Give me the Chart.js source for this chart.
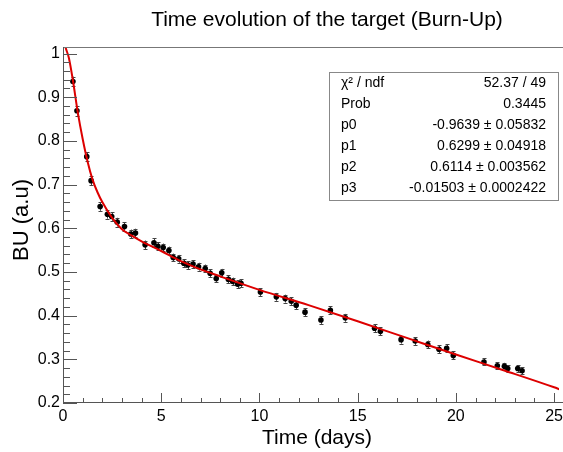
<!DOCTYPE html>
<html><head><meta charset="utf-8">
<script src="https://cdn.jsdelivr.net/npm/chart.js@4.4.0/dist/chart.umd.min.js"></script>
<style>html,body{margin:0;padding:0;background:#fff;}#wrap{width:563px;height:452px;}</style>
</head><body><div id="wrap"><canvas id="c" width="563" height="452"></canvas></div>
<script>
const chartTitle = 'Time evolution of the target (Burn-Up)';
const xTitle = 'Time (days)';
const yTitle = 'BU (a.u)';
const days = [0.505,0.71,1.21,1.43,1.89,2.26,2.48,2.76,3.13,3.45,3.69,4.18,4.63,4.83,5.10,5.39,5.61,5.89,6.15,6.35,6.62,6.90,7.24,7.49,7.80,8.08,8.42,8.64,8.89,9.06,10.05,10.86,11.31,11.62,11.87,12.32,13.13,13.61,14.37,15.86,16.16,17.21,17.93,18.57,19.14,19.53,19.87,21.43,22.11,22.47,22.64,23.15,23.37];
const bu = [0.936,0.869,0.764,0.709,0.650,0.632,0.627,0.614,0.604,0.587,0.589,0.562,0.567,0.559,0.556,0.549,0.533,0.530,0.520,0.516,0.518,0.512,0.508,0.497,0.485,0.498,0.483,0.478,0.472,0.474,0.454,0.443,0.439,0.433,0.424,0.408,0.390,0.412,0.395,0.371,0.364,0.345,0.342,0.334,0.323,0.325,0.309,0.294,0.285,0.284,0.279,0.279,0.274];
const buErr = [0.011,0.011,0.010,0.010,0.010,0.010,0.010,0.010,0.010,0.010,0.010,0.010,0.010,0.009,0.009,0.009,0.009,0.009,0.009,0.009,0.009,0.009,0.009,0.009,0.009,0.009,0.009,0.009,0.009,0.009,0.009,0.009,0.009,0.009,0.009,0.009,0.009,0.009,0.009,0.009,0.009,0.009,0.009,0.009,0.009,0.009,0.009,0.008,0.008,0.008,0.008,0.008,0.008];
const fitDays = [0.05,0.1,0.3,0.5,0.75,1.0,1.25,1.5,1.75,2.0,2.5,3.0,3.5,4.0,5.0,6.0,7.0,8.0,10.0,12.5,15.0,17.5,20.0,22.5,25.0,25.3];
const fitBU = [1.035,1.02,0.99,0.94,0.866,0.805,0.753,0.712,0.683,0.660,0.624,0.598,0.583,0.570,0.548,0.525,0.506,0.490,0.459,0.424,0.387,0.349,0.311,0.274,0.236,0.231];
const statLabels = ['χ² / ndf','Prob','p0','p1','p2','p3'];
const statValues = ['52.37 / 49','0.3445','-0.9639 ± 0.05832','0.6299 ± 0.04918','0.6114 ± 0.003562','-0.01503 ± 0.0002422'];
const xRange = [0, 25.25];
const yRange = [0.2, 1.015];

const FONT = "'Liberation Sans', Arial, Helvetica, sans-serif";

const rootDecor = {
  id: 'rootDecor',
  beforeDatasetsDraw(chart) {
    const {ctx, scales:{x, y}} = chart;
    ctx.save();
    ctx.strokeStyle = '#444';
    ctx.lineWidth = 1;
    for (let i = 0; i < days.length; i++) {
      const px = Math.round(x.getPixelForValue(days[i])) + 0.5;
      const y1 = y.getPixelForValue(bu[i] - buErr[i]);
      const y2 = y.getPixelForValue(bu[i] + buErr[i]);
      ctx.beginPath();
      ctx.moveTo(px, y1); ctx.lineTo(px, y2);
      ctx.moveTo(px - 2, Math.round(y1) + 0.5); ctx.lineTo(px + 2, Math.round(y1) + 0.5);
      ctx.moveTo(px - 2, Math.round(y2) + 0.5); ctx.lineTo(px + 2, Math.round(y2) + 0.5);
      ctx.stroke();
    }
    ctx.restore();
  },
  afterDraw(chart) {
    const {ctx, chartArea:a, scales:{x, y}} = chart;
    ctx.save();
    ctx.lineWidth = 1;
    ctx.strokeStyle = '#777';
    ctx.beginPath();
    ctx.moveTo(a.left, a.top + 0.5); ctx.lineTo(chart.width, a.top + 0.5);
    ctx.stroke();
    ctx.strokeStyle = '#555';
    ctx.beginPath();
    ctx.moveTo(a.left + 0.5, a.top); ctx.lineTo(a.left + 0.5, a.bottom);
    ctx.moveTo(a.left, a.bottom - 0.5); ctx.lineTo(chart.width, a.bottom - 0.5);
    for (let k = 0; k <= 40; k++) {
      const v = yRange[0] + k * 0.02;
      if (v > yRange[1]) break;
      const py = Math.round(y.getPixelForValue(v)) + 0.5;
      const len = (k % 5 === 0) ? 14 : 7;
      ctx.moveTo(a.left, py); ctx.lineTo(a.left + len, py);
    }
    for (let k = 0; k <= 25; k++) {
      const px = Math.round(x.getPixelForValue(k)) + 0.5;
      const len = (k % 5 === 0) ? 10 : 5;
      ctx.moveTo(px, a.bottom); ctx.lineTo(px, a.bottom - len);
    }
    ctx.stroke();
    // titles
    ctx.fillStyle = '#000';
    ctx.textAlign = 'center';
    ctx.textBaseline = 'middle';
    ctx.font = '21px ' + FONT;
    ctx.fillText(chartTitle, 327, 20);
    ctx.fillText(xTitle, 317, 438);
    ctx.save();
    ctx.translate(22, 220);
    ctx.rotate(-Math.PI / 2);
    ctx.font = '22px ' + FONT;
    ctx.fillText(yTitle, 0, 0);
    ctx.restore();
    // stats box
    const bx = 329.5, by = 72.5, bw = 229, bh = 128;
    ctx.fillStyle = '#fff';
    ctx.fillRect(bx, by, bw, bh);
    ctx.strokeStyle = '#888';
    ctx.strokeRect(bx, by, bw, bh);
    ctx.fillStyle = '#000';
    ctx.font = '14px ' + FONT;
    ctx.textBaseline = 'middle';
    for (let i = 0; i < statLabels.length; i++) {
      const ty = 83.5 + i * 21;
      ctx.textAlign = 'left';
      ctx.fillText(statLabels[i], 341, ty);
      ctx.textAlign = 'right';
      ctx.fillText(statValues[i], 546, ty);
    }
    ctx.restore();
  }
};

new Chart(document.getElementById('c'), {
  type: 'scatter',
  data: {
    datasets: [
      {
        type: 'line',
        data: fitDays.map((d, i) => ({x: d, y: fitBU[i]})),
        borderColor: '#dd0000',
        borderWidth: 2,
        pointRadius: 0,
        fill: false,
        cubicInterpolationMode: 'monotone',
        order: 0
      },
      {
        data: days.map((d, i) => ({x: d, y: bu[i]})),
        backgroundColor: '#000',
        borderColor: '#000',
        borderWidth: 0,
        pointRadius: 2.8,
        order: 1
      }
    ]
  },
  options: {
    responsive: false,
    animation: false,
    devicePixelRatio: 1,
    layout: {padding: {left: 0, right: 0, top: 47, bottom: 0}},
    plugins: {
      legend: {display: false},
      tooltip: {enabled: false},
      title: {display: false}
    },
    scales: {
      x: {
        type: 'linear',
        min: xRange[0], max: xRange[1],
        grid: {display: false, drawTicks: false},
        border: {display: false},
        ticks: {
          stepSize: 5, includeBounds: false, autoSkip: false, maxRotation: 0,
          color: '#000', padding: 4,
          font: {family: FONT, size: 16},
          callback: v => String(Math.round(v))
        },
        title: {display: false},
        afterFit: s => { s.height = 49; s.paddingLeft = 0; s.paddingRight = 0; }
      },
      y: {
        type: 'linear',
        min: yRange[0], max: yRange[1],
        grid: {display: false, drawTicks: false},
        border: {display: false},
        ticks: {
          stepSize: 0.1, includeBounds: false, autoSkip: false,
          color: '#000', padding: 3,
          font: {family: FONT, size: 16},
          callback: v => String(Math.round(v * 10) / 10)
        },
        title: {display: false},
        afterFit: s => { s.width = 63; s.paddingTop = 0; s.paddingBottom = 0; }
      }
    }
  },
  plugins: [rootDecor]
});
</script></body></html>
